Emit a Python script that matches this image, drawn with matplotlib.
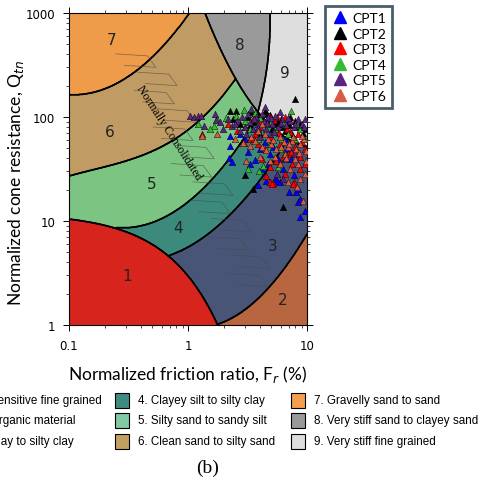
import numpy as np
import matplotlib
matplotlib.use('Agg')
import matplotlib.pyplot as plt
from matplotlib.colors import ListedColormap
from matplotlib.patches import Rectangle, Polygon
from matplotlib.lines import Line2D

W, H = 481, 485

# zone colours 1..9
zone_colors = ['#d7241d', '#b8663f', '#485577', '#3b8a7c', '#7cc482',
               '#c09c64', '#ee9b4a', '#9a9a9a', '#dedede']
zone_names = ['1. Sensitive fine grained', '2. Organic material', '3. Clay to silty clay',
              '4. Clayey silt to silty clay', '5. Silty sand to sandy silt', '6. Clean sand to silty sand',
              '7. Gravelly sand to sand', '8. Very stiff sand to clayey sand', '9. Very stiff fine grained']
legend_colors = ['#d7241d', '#b8663f', '#485577', '#3e8c80', '#80c9a2',
                 '#c2a062', '#f59e4e', '#999999', '#dddddd']

# zone boundaries (Fr %, Qtn)
b67_F = [0.1, 0.15, 0.5, 0.73, 1.0]
b67_Q = [159, 178, 378, 562, 1000]
b56_F = [0.1, 0.15, 0.64, 1.21, 1.62, 2.48]
b56_Q = [28, 28.8, 57.5, 91.6, 112, 240]
b45_F = [0.30, 1.26, 2.25, 2.90]
b45_Q = [8.6, 19.4, 39.4, 61.4]
b34_F = [0.71, 1.86, 4.27, 5.6]
b34_Q = [4.7, 9.35, 27.1, 42.2]
b23_F = [1.69, 4.27, 10]
b23_Q = [1.0, 2.0, 7.5]
b8_F = [1.39, 2.48, 3.87, 10]
b8_Q = [1000, 240, 112, 52]
b89_F = [4.89, 4.70, 3.87]
b89_Q = [1000, 361, 112]

# zone label positions
lab_F = [0.307, 6.28, 5.17, 0.824, 0.497, 0.221, 0.23, 2.73, 6.53]
lab_Q = [2.96, 1.74, 5.75, 8.75, 22.7, 73, 562, 503, 265]

# CPT data (Fr %, Qtn)
cpt1_F = [2.26, 2.26, 2.22, 2.35, 3.19, 3.65, 3.87, 4.52, 5.38, 5.6, 5.93, 7.05, 8.09, 8.4, 8.4, 8.74,
          9.6, 9.1, 4.03, 4.43, 4.88, 6.3, 7.4, 2.73, 3.32, 6.8, 4.2, 7.8, 8.74, 4.7, 5.7, 3.0, 6.53, 5.2]
cpt1_Q = [65.6, 52.6, 40.4, 36.9, 46.1, 38.6, 22.2, 24.2, 25.4, 24.2, 23.7, 19.0, 19.0, 20.3, 15.2, 11.0,
          12.5, 80.1, 49.3, 57.5, 44.1, 31.6, 39.5, 68.6, 35.4, 49.3, 31.6, 27.7, 16.3, 35.4, 39.5, 61.4, 61.4, 51.5]
cpt2_F = [7.93, 2.26, 3.8, 4.2, 4.6, 5.38, 5.93, 6.3, 8.2, 9.1, 5.7, 3.0, 3.5, 6.3, 2.53, 3.19, 3.4,
          4.43, 4.88, 7.2, 8.74, 6.53, 4.03, 2.73, 7.5, 9.6, 5.1, 2.4, 6.9,
          3.6, 4.9, 6.0, 7.0, 8.0, 9.3, 5.4, 3.3]
cpt2_Q = [149, 114, 102, 95.7, 107, 87.6, 85.6, 80.1, 80.1, 81.9, 91.5, 27.7, 20.3, 13.6, 114, 100, 112,
          114, 91.5, 100, 85.6, 73.4, 68.6, 85.6, 68.6, 76.7, 76.7, 95.7, 89.5,
          90, 105, 96, 84, 92, 70, 78, 84]
cpt3_F = [1.31, 2.15, 2.6, 2.95, 3.5, 4.8, 5.6, 6.53, 7.2, 8.4, 4.52, 5.2, 4.9, 5.1, 7.8, 6.53, 7.7,
          3.32, 3.87, 4.43, 5.0, 5.93, 6.9, 7.93, 8.74, 9.6, 4.2, 5.5, 6.3, 8.74, 3.0, 4.03, 9.6, 7.5,
          3.65, 4.88, 4.0, 5.3, 6.8, 8.0, 9.0, 3.6, 5.8, 7.4]
cpt3_Q = [68.6, 85.6, 73.4, 56, 95.7, 102, 100, 100, 71.7, 68.6, 27.1, 23.2, 23.7, 22.7, 23.7, 28.3, 22.7,
          61.4, 55, 49.3, 64.2, 55, 44.1, 51.5, 41.3, 49.3, 39.5, 37.8, 41.3, 31.6, 80, 80, 35.4, 35.4,
          68.6, 33.1, 90, 93, 77, 60, 57, 62, 70, 46]
cpt4_F = [1.21, 1.66, 1.75, 2.1, 2.53, 2.95, 3.65, 7.3, 1.53, 3.19, 3.95, 4.3, 4.43, 5.38, 6.53, 3.32,
          5.93, 7.93, 4.88, 3.0, 6.9, 8.74, 3.87, 9.6, 5.7, 4.0, 5.0, 8.2, 6.2]
cpt4_Q = [85.6, 81.9, 95.7, 98, 102, 117, 109, 114, 76.7, 31.6, 30.3, 33.8, 85.6, 76.7, 85.6, 76.7,
          49.3, 61.4, 55, 91.5, 68.6, 76.7, 61.4, 61.4, 33.1, 97, 90, 84, 62]
cpt5_F = [1.04, 1.12, 1.21, 1.29, 1.69, 1.72, 1.36, 1.86, 1.98, 2.15, 2.35, 2.6, 2.85, 3.0, 3.19, 3.32,
          3.5, 3.72, 3.87, 4.2, 4.36, 4.52, 4.7, 5.1, 5.38, 5.7, 6.15, 6.7, 7.2, 7.8, 8.4, 9.1, 2.73,
          3.1, 4.03, 4.88, 5.6, 6.3, 6.53, 7.93, 9.6, 2.48, 3.4, 4.43, 5.93,
          3.6, 4.6, 5.0, 6.0, 6.9, 8.0, 9.4, 3.9, 5.3]
cpt5_Q = [102, 100, 102, 102, 107, 93.6, 81.9, 89.5, 76.7, 95.7, 81.9, 91.5, 100, 80.1, 107, 89.5,
          76.7, 100, 85.6, 107, 91.5, 76.7, 100, 85.6, 102, 80.1, 95.7, 83.7, 91.5, 80.1, 95.7, 85.6, 73.4,
          68.6, 64.2, 68.6, 28.3, 25.4, 39.5, 44.1, 95.7, 85.6, 119, 125, 112,
          95, 88, 97, 88, 97, 86, 80, 78, 72]
cpt6_F = [1.31, 1.75, 2.48, 2.9, 3.32, 3.65, 4.2, 4.7, 5.0, 5.5, 5.93, 6.4, 6.9, 7.5, 8.1, 8.74, 9.4,
          9.8, 6.9, 8.2, 9.2, 4.03, 4.88, 5.93, 7.2, 8.4, 9.6, 4.43, 3.87, 6.53, 5.38, 7.93, 8.74, 4.2, 3.1,
          4.5, 5.2, 6.1, 7.1, 8.6, 9.0, 3.4, 7.7, 9.9, 6.6]
cpt6_Q = [65.6, 68.6, 61.4, 56, 52.6, 58.8, 51.5, 61.4, 55, 49.3, 64.2, 57.5, 51.5, 58.8, 49.3, 55, 61.4,
          47.2, 23.7, 21.2, 15.5, 41.3, 37.8, 35.4, 31.6, 35.4, 28.3, 68.6, 73.4, 44.1, 41.3, 39.5, 25.4,
          85.6, 37.8, 48, 60, 52, 55, 45, 66, 64, 64, 38, 40]

cpt_names = ['CPT1', 'CPT2', 'CPT3', 'CPT4', 'CPT5', 'CPT6']
cpt_colors = ['#0000ff', '#000000', '#ff0000', '#33bb33', '#5a2582', '#d65c46']
cpt_F = [cpt1_F, cpt2_F, cpt3_F, cpt4_F, cpt5_F, cpt6_F]
cpt_Q = [cpt1_Q, cpt2_Q, cpt3_Q, cpt4_Q, cpt5_Q, cpt6_Q]


def fit(F, Q, deg):
    return np.polyfit(np.log10(F), np.log10(Q), deg)


def boundary(p, U, F_start):
    # curve only exists to the right of its first read point
    b = np.polyval(p, U)
    b[U < np.log10(F_start)] = -10
    return b


p67 = fit(b67_F, b67_Q, 2)
p56 = fit(b56_F, b56_Q, 3)
p45 = fit(b45_F, b45_Q, 2)
p34 = fit(b34_F, b34_Q, 2)
p23 = fit(b23_F, b23_Q, 2)
p8 = fit(b8_F, b8_Q, 3)
p89 = np.polyfit(np.log10(b89_Q), np.log10(b89_F), 2)

u = np.linspace(-1, 1, 900)
v = np.linspace(0, 3, 900)
U, V = np.meshgrid(u, v)
zone = np.full(U.shape, 3)
zone[V > boundary(p34, U, 0.6)] = 4
zone[V > boundary(p45, U, 0.25)] = 5
zone[V > np.polyval(p56, U)] = 6
zone[V > np.polyval(p67, U)] = 7
zone[(V < np.polyval(p23, U)) & (U > 0.1)] = 2
hi = (V > np.polyval(p8, U)) & (U > 0.1)
zone[hi] = 8
zone[hi & (U > np.polyval(p89, V))] = 9
zone[V < np.log10(12 * np.exp(-1.4 * 10 ** U))] = 1

fig = plt.figure(figsize=(W / 100, H / 100), dpi=100)
ax = fig.add_axes([69 / W, 1 - 326 / H, (307 - 69) / W, (326 - 14) / H])
ax.set_xscale('log')
ax.set_yscale('log')
ax.pcolormesh(10 ** u, 10 ** v, zone, cmap=ListedColormap(zone_colors), vmin=0.5, vmax=9.5,
              shading='auto', rasterized=True)
for k in range(1, 10):
    ax.contour(10 ** U, 10 ** V, (zone == k).astype(float), levels=[0.5], colors='k', linewidths=1.1)

for k in range(9):
    ax.text(lab_F[k], lab_Q[k], str(k + 1), ha='center', va='center', fontsize=11, color='#222222')

# normally consolidated band
uc = np.linspace(np.log10(0.38), np.log10(3.3), 13)
vc = np.linspace(np.log10(361), np.log10(2.8), 13)
for i, (a, b) in enumerate(zip(uc, vc)):
    a = a + (0.05 if i % 2 else -0.05)
    pts = [(a - 0.14, b + 0.05), (a + 0.13, b + 0.03), (a + 0.2, b - 0.08), (a - 0.07, b - 0.06)]
    ax.add_patch(Polygon([(10 ** p, 10 ** q) for p, q in pts], closed=False, fill=False,
                         ec='#4a4a4a', lw=0.5, alpha=0.7, zorder=3))
ax.text(0.69, 71.7, 'Normally Consolidated', rotation=-57, ha='center', va='center',
        fontsize=8.5, family='Liberation Serif', zorder=4)

for F, Q, c in zip(cpt_F, cpt_Q, cpt_colors):
    ax.scatter(F, Q, marker='^', s=22, c=c, edgecolors='k', linewidths=0.3, zorder=5)

ax.set_xlim(0.1, 10)
ax.set_ylim(1, 1000)
ax.set_xticks([0.1, 1, 10])
ax.set_xticklabels(['0.1', '1', '10'])
ax.set_yticks([1, 10, 100, 1000])
ax.set_yticklabels(['1', '10', '100', '1000'])
ax.tick_params(which='both', top=True, right=True, direction='out', labelsize=8.5, pad=6)
ax.tick_params(which='major', length=4, width=0.7)
ax.tick_params(which='minor', length=2, width=0.5)
for s in ax.spines.values():
    s.set_linewidth(0.8)
ax.set_xlabel('Normalized friction ratio, F$_r$ (%)', fontsize=12.5, family='Lato', labelpad=8)
ax.set_ylabel('Normalized cone resistance, Q$_{tn}$', fontsize=12.5, family='Lato', labelpad=4)
ax.yaxis.set_label_coords(-0.18, 0.46)

handles = [Line2D([], [], marker='^', ls='none', color=c, markersize=8) for c in cpt_colors]
leg = fig.legend(handles, cpt_names, loc='upper left', bbox_to_anchor=(325 / W, 1 - 7 / H),
                 frameon=True, fancybox=False, edgecolor='#1c3545', borderaxespad=0,
                 borderpad=0.45, labelspacing=0.25, handletextpad=0.3, handlelength=1.2,
                 prop={'family': 'Lato', 'size': 10})
leg.get_frame().set_linewidth(2)

# bottom legend of soil zones
col_x = [-46, 115, 291]
row_y = [401, 421.5, 442]
for k in range(9):
    x0 = col_x[k // 3]
    y0 = row_y[k % 3]
    fig.add_artist(Rectangle((x0 / W, 1 - (y0 + 7.5) / H), 14 / W, 15 / H, transform=fig.transFigure,
                             fc=legend_colors[k], ec='k', lw=0.8))
    fig.text((x0 + 23) / W, 1 - y0 / H, zone_names[k], ha='left', va='center', fontsize=8.4,
             family='Liberation Sans')
fig.text(208 / W, 1 - 468 / H, '(b)', ha='center', va='center', fontsize=14, family='Liberation Serif')

fig.savefig('out.png', dpi=100)
